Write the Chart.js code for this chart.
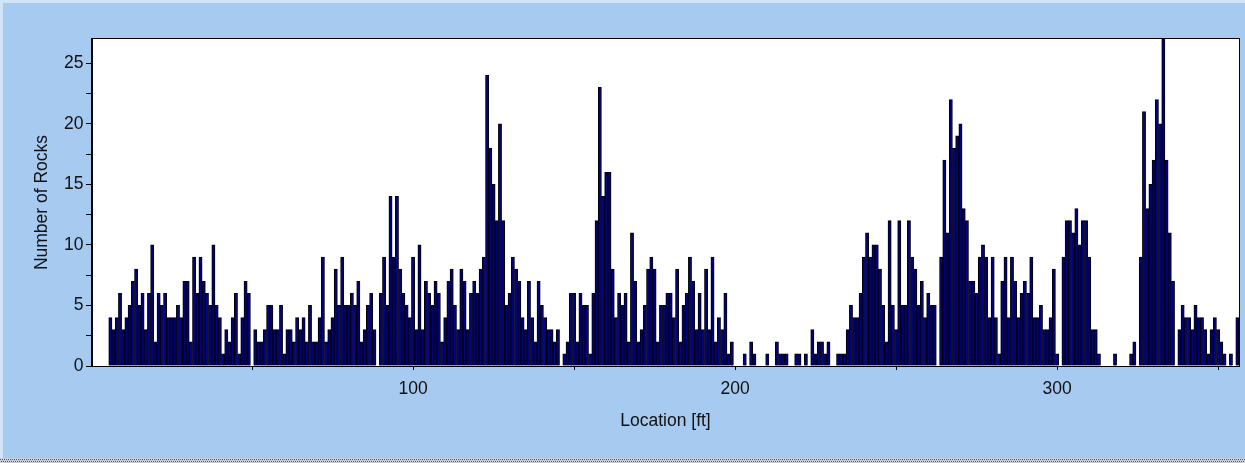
<!DOCTYPE html>
<html>
<head>
<meta charset="utf-8">
<title>Number of Rocks by Location</title>
<style>
  html, body { margin: 0; padding: 0; background: #A6CAF0; }
  #wrap { position: relative; width: 1245px; height: 463px; }
  canvas { display: block; }
</style>
<script src="https://cdn.jsdelivr.net/npm/chart.js@4.4.1/dist/chart.umd.min.js"></script>
</head>
<body>
<div id="wrap"><canvas id="rocks" width="1245" height="463"></canvas></div>
<script>
// Rock counts in 1-ft bins, starting at the first bin with rocks.
const firstBin = 6;
const rockCounts = [
  // 6 – 36
  4,3,4,6,3,4,5,7,8,5,6,3,6,10,2,6,5,6,4,4,4,5,4,7,7,2,9,6,9,7,6,
  // 37 – 72
  5,10,5,4,1,3,2,4,6,1,4,7,6,0,3,2,2,3,5,5,3,3,5,1,3,3,2,4,3,4,2,5,2,2,4,9,
  // 73 – 108
  2,3,4,8,5,9,5,5,6,5,7,2,3,5,6,3,0,6,9,5,14,9,14,8,6,5,4,9,3,10,3,7,6,5,7,6,
  // 109 – 144
  2,4,7,8,5,3,8,7,3,6,7,6,8,9,24,18,15,12,20,12,5,6,9,8,7,4,3,7,4,2,7,5,4,3,3,2,
  // 145 – 180
  3,0,1,2,6,6,2,6,5,5,1,6,12,23,14,16,16,8,4,6,5,6,2,11,7,2,3,5,8,9,8,2,5,5,6,6,
  // 181 – 199
  4,8,2,5,6,9,7,3,6,3,8,3,9,2,4,3,6,1,2,
  // 200 – 216
  0,0,0,1,0,2,1,0,0,0,1,0,0,2,1,1,1,
  // 217 – 238
  0,0,1,1,0,1,0,3,1,2,2,1,2,0,0,1,1,1,3,5,4,4,
  // 239 – 251
  6,9,11,9,10,10,8,5,2,12,5,3,12,
  // 252 – 288
  5,5,12,9,8,5,7,4,6,5,5,0,9,17,11,22,18,19,20,13,12,7,7,6,9,10,9,4,9,4,1,7,9,4,9,7,4,
  // 289 – 324
  6,7,6,9,4,4,5,3,3,4,8,1,0,9,12,12,11,13,10,12,12,9,3,3,1,0,0,0,0,1,0,0,0,0,1,2,
  // 325 – 356
  0,9,21,13,15,17,22,20,27,17,11,7,0,3,5,4,4,3,5,4,4,3,1,3,4,3,2,1,0,1,0,4
];
const locations = rockCounts.map((_, i) => firstBin + i);

// Axis tick labels
const xTickLabels = [100, 200, 300];
const yTickLabels = [0, 5, 10, 15, 20, 25];

const FONT = "'Liberation Sans', Arial, sans-serif";
const TEXT = '#111111';

// Window-style panel: blue background, light top/left edge, dotted bottom edge,
// white plot area and a black frame around it.
const panel = {
  id: 'panel',
  beforeDraw(chart) {
    const c = chart.ctx, w = chart.width, h = chart.height, a = chart.chartArea;
    c.save();
    c.fillStyle = '#A6CAF0';
    c.fillRect(0, 0, w, h);
    c.fillStyle = '#D2E4F8';
    c.fillRect(0, 0, w, 3);
    c.fillRect(0, 0, 3, h);
    c.fillStyle = '#C9CED6';
    c.fillRect(0, h - 5, w, 5);
    c.strokeStyle = '#5A5F66';
    c.lineWidth = 1;
    c.setLineDash([1, 1]);
    c.beginPath(); c.moveTo(0, h - 3.5); c.lineTo(w, h - 3.5); c.stroke();
    c.beginPath(); c.moveTo(1, h - 1.5); c.lineTo(w, h - 1.5); c.stroke();
    c.setLineDash([]);
    c.fillStyle = '#FFFFFF';
    c.fillRect(a.left, a.top, a.right - a.left, a.bottom - a.top);
    c.restore();
  },
  afterDraw(chart) {
    const c = chart.ctx, a = chart.chartArea;
    c.save();
    c.strokeStyle = '#000';
    c.lineWidth = 1;
    c.strokeRect(Math.round(a.left) - 0.5, Math.round(a.top) - 0.5,
                 Math.round(a.right - a.left) + 1, Math.round(a.bottom - a.top) + 1);
    c.restore();
  }
};

new Chart(document.getElementById('rocks'), {
  type: 'bar',
  data: {
    datasets: [{
      label: 'Number of Rocks',
      data: locations.map((x, i) => ({ x: x, y: rockCounts[i] })),
      backgroundColor: '#000080',
      borderColor: '#000000',
      borderWidth: { top: 1, left: 1, right: 1, bottom: 0 },
      borderSkipped: 'start',
      barPercentage: 1.0,
      categoryPercentage: 1
    }]
  },
  options: {
    responsive: false,
    animation: false,
    events: [],
    layout: { padding: { left: 0, top: 39, right: 6, bottom: 0 } },
    plugins: {
      legend: { display: false },
      tooltip: { enabled: false }
    },
    scales: {
      x: {
        type: 'linear',
        min: 0.3,
        max: 356.5,
        offset: false,
        grid: {
          offset: false,
          drawOnChartArea: false,
          drawTicks: true,
          tickLength: 4,
          color: '#000'
        },
        border: { display: true, color: '#000', width: 1 },
        ticks: {
          stepSize: 50,
          includeBounds: false,
          autoSkip: false,
          maxRotation: 0,
          padding: 9,
          color: TEXT,
          font: { family: FONT, size: 17.5 },
          callback: (v) => xTickLabels.includes(v) ? String(v) : ''
        },
        title: {
          display: true,
          text: 'Location [ft]',
          color: TEXT,
          font: { family: FONT, size: 17.5, lineHeight: 1 },
          padding: { top: 0, bottom: 33 }
        },
        afterFit(scale) { scale.height = 97; }
      },
      y: {
        type: 'linear',
        min: 0,
        max: 27,
        grid: {
          drawOnChartArea: false,
          drawTicks: true,
          tickLength: 6,
          color: '#000'
        },
        border: { display: true, color: '#000', width: 1 },
        ticks: {
          stepSize: 2.5,
          includeBounds: false,
          autoSkip: false,
          padding: 2.5,
          color: TEXT,
          font: { family: FONT, size: 17.5 },
          callback: (v) => yTickLabels.includes(v) ? String(v) : ''
        },
        title: {
          display: true,
          text: 'Number of Rocks',
          color: TEXT,
          font: { family: FONT, size: 17.5, lineHeight: 1 },
          padding: { top: 33.25, bottom: 0 }
        },
        afterFit(scale) { scale.width = 92; }
      }
    }
  },
  plugins: [panel]
});
</script>
</body>
</html>
